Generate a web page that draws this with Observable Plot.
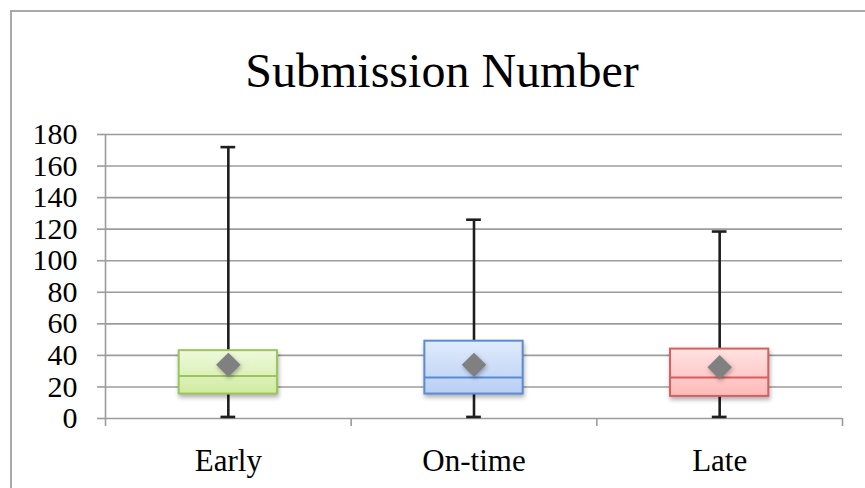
<!DOCTYPE html>
<html><head><meta charset="utf-8">
<script src="https://cdn.jsdelivr.net/npm/d3@7"></script>
<script src="https://cdn.jsdelivr.net/npm/@observablehq/plot@0.6"></script>
<style>
body{margin:0;background:#fff;}
#wrap{position:relative;width:865px;height:488px;overflow:hidden;background:#fff;}
#border{position:absolute;left:10px;top:10px;width:900px;height:600px;border:2px solid #a9a9a9;box-sizing:border-box;pointer-events:none;}
#chart{position:absolute;left:0;top:0;}
</style></head>
<body>
<div id="wrap"><div id="chart"></div><div id="border"></div></div>
<script>
const categories = ["Early", "On-time", "Late"];
const minValues = [1, 1, 1];
const q1Values = [15.5, 15.5, 14];
const medianValues = [27, 26, 26];
const q3Values = [43, 49, 44];
const maxValues = [172, 126, 118.5];
const meanValues = [34, 34, 32.5];
const yTicks = [0, 20, 40, 60, 80, 100, 120, 140, 160, 180];
const fillTop = ["#eef9dc", "#e0ebfc", "#ffe2e2"];
const fillBottom = ["#d0eba0", "#b9cff4", "#ffb9b9"];
const strokeColors = ["#9dc55e", "#5b8bd3", "#d65f5f"];

const rows = categories.map((c, i) => ({
  cat: c, i,
  min: minValues[i], q1: q1Values[i], median: medianValues[i],
  q3: q3Values[i], max: maxValues[i], mean: meanValues[i]
}));

const serif = "'Liberation Serif', 'Times New Roman', serif";
const grid = "#9c9c9c";

const svg = Plot.plot({
  width: 865,
  height: 488,
  marginLeft: 105,
  marginRight: 23,
  marginTop: 134,
  marginBottom: 70,
  style: {fontFamily: serif, fontSize: "30px", background: "transparent", color: "black"},
  x: {type: "linear", domain: [0, 3], axis: null, label: null},
  y: {domain: [0, 180], axis: null, label: null},
  color: {type: "identity"},
  marks: [
    Plot.ruleY(yTicks, {stroke: grid, strokeWidth: 1.6}),
    Plot.ruleX([0], {y1: 0, y2: 180, stroke: grid, strokeWidth: 1.6}),
    Plot.axisY({ticks: yTicks, tickSize: 8, tickPadding: 20, stroke: grid, strokeWidth: 1.6, fill: "black", fontSize: 30, fontFamily: serif, label: null}),
    Plot.axisX({ticks: [0, 1, 2, 3], tickSize: 8, tickFormat: () => "", stroke: grid, strokeWidth: 1.6, label: null}),
    Plot.axisX({ticks: [0.5, 1.5, 2.5], tickSize: 0, tickPadding: 30, tickFormat: v => categories[Math.floor(v)], fill: "black", fontSize: 31, fontFamily: serif, label: null}),
    Plot.ruleX(rows, {x: d => d.i + 0.5, y1: "min", y2: "max", stroke: "#1e1e1e", strokeWidth: 2.6}),
    Plot.ruleY(rows, {y: "max", x1: d => d.i + 0.47, x2: d => d.i + 0.53, stroke: "#1e1e1e", strokeWidth: 2.6}),
    Plot.ruleY(rows, {y: "min", x1: d => d.i + 0.47, x2: d => d.i + 0.53, stroke: "#1e1e1e", strokeWidth: 2.6}),
    Plot.rect(rows, {x1: d => d.i + 0.3, x2: d => d.i + 0.7, y1: "q1", y2: "q3",
      fill: d => `url(#boxgrad${d.i})`, stroke: d => strokeColors[d.i], strokeWidth: 2,
      imageFilter: "drop-shadow(1px 3px 2px rgba(0,0,0,0.3))"}),
    Plot.ruleY(rows, {y: "median", x1: d => d.i + 0.3, x2: d => d.i + 0.7, stroke: d => strokeColors[d.i], strokeWidth: 2}),
    Plot.dot(rows, {x: d => d.i + 0.5, y: "mean", symbol: "diamond2", r: 11, fill: "#808080", stroke: "none",
      imageFilter: "drop-shadow(1px 2px 2px rgba(0,0,0,0.3))"})
  ]
});

const s = d3.select(svg);
const defs = s.insert("defs", ":first-child");
categories.forEach((c, i) => {
  const g = defs.append("linearGradient").attr("id", `boxgrad${i}`).attr("x1", 0).attr("y1", 0).attr("x2", 0).attr("y2", 1);
  g.append("stop").attr("offset", "0%").attr("stop-color", fillTop[i]);
  g.append("stop").attr("offset", "100%").attr("stop-color", fillBottom[i]);
});
s.append("text")
  .attr("x", 442).attr("y", 87)
  .attr("text-anchor", "middle")
  .attr("font-family", serif)
  .attr("font-size", 48)
  .attr("fill", "black")
  .text("Submission Number");

document.getElementById("chart").appendChild(svg);
</script>
</body></html>
